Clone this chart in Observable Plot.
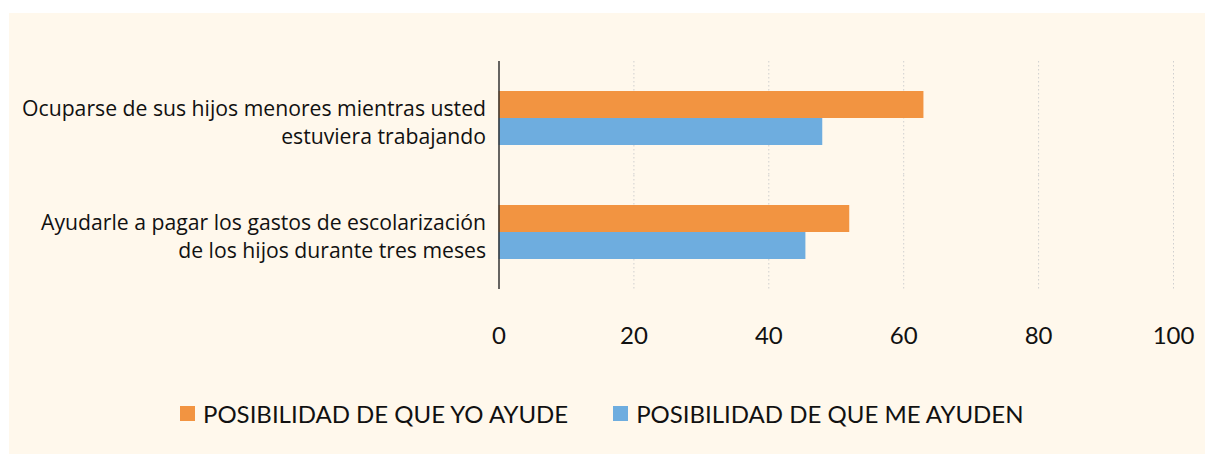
<!DOCTYPE html>
<html><head><meta charset="utf-8">
<script src="https://cdn.jsdelivr.net/npm/d3@7"></script>
<script src="https://cdn.jsdelivr.net/npm/@observablehq/plot@0.6"></script>
<style>
body{margin:0;background:#fff;font-family:Lato,"Open Sans",sans-serif;}
#panel{position:absolute;left:9px;top:13px;width:1196px;height:441px;background:#fff8ec;overflow:hidden;}
#chart{position:absolute;left:0;top:0;}
#legend{position:absolute;left:171px;top:386px;display:flex;align-items:center;font-size:24px;color:#111;white-space:nowrap;}
.item{display:flex;align-items:center;margin-right:45px;}
.sw{width:15px;height:15px;margin-right:8px;}
</style></head>
<body>
<div id="panel"><div id="chart"></div><div id="legend"></div></div>
<script>
const categories = [
  "Ocuparse de sus hijos menores mientras usted\nestuviera trabajando",
  "Ayudarle a pagar los gastos de escolarización\nde los hijos durante tres meses"
];
const series = ["POSIBILIDAD DE QUE YO AYUDE", "POSIBILIDAD DE QUE ME AYUDEN"];
const yoAyude = [63, 52];
const meAyuden = [48, 45.5];
const xTicks = [0, 20, 40, 60, 80, 100];
const colors = ["#f29441", "#6eaddf"];

const rows = [];
categories.forEach((c, i) => {
  rows.push({cat: c, series: series[0], value: yoAyude[i]});
  rows.push({cat: c, series: series[1], value: meAyuden[i]});
});

const chart = Plot.plot({
  width: 1196, height: 345,
  marginLeft: 489.5, marginRight: 32, marginTop: 48, marginBottom: 69,
  style: {background: "transparent", fontFamily: "Lato, 'Open Sans', sans-serif", color: "#111"},
  fy: {domain: categories, padding: 0, axis: null},
  y: {domain: series, paddingInner: 0, paddingOuter: 1.111, axis: null},
  x: {domain: [0, 100], axis: null},
  color: {domain: series, range: colors},
  marks: [
    Plot.gridX(xTicks.slice(1), {stroke: "#cfcfcf", strokeOpacity: 1, strokeDasharray: "1.5,2.5", strokeWidth: 1}),
    Plot.barX(rows, {fy: "cat", y: "series", x: "value", fill: "series"}),
    Plot.ruleX([0], {stroke: "#333", strokeWidth: 1.5}),
    Plot.text(categories, {fy: d => d, text: d => d, frameAnchor: "left", textAnchor: "end", dx: -13, dy: 2.5, lineHeight: 1.34, fontSize: 21.2, fontFamily: "'Open Sans', sans-serif", fill: "#111"}),
    Plot.axisX(xTicks, {tickSize: 0, tickPadding: 37, fontSize: 24, fill: "#111", label: null})
  ]
});
document.getElementById("chart").appendChild(chart);

const legend = document.getElementById("legend");
series.forEach((s, i) => {
  const it = document.createElement("div"); it.className = "item";
  const sw = document.createElement("div"); sw.className = "sw"; sw.style.background = colors[i];
  const tx = document.createElement("span"); tx.textContent = s;
  it.appendChild(sw); it.appendChild(tx); legend.appendChild(it);
});
</script>
</body></html>
